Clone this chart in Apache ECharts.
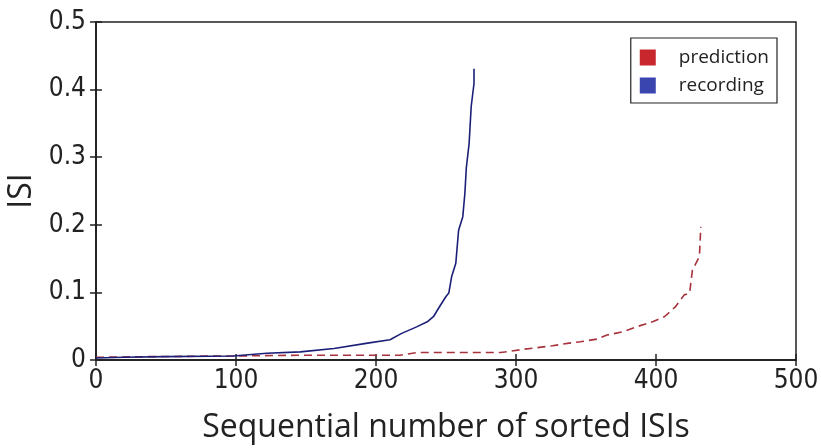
<!DOCTYPE html>
<html><head><meta charset="utf-8">
<script src="https://cdn.jsdelivr.net/npm/echarts@6/dist/echarts.min.js"></script>
<style>html,body{margin:0;padding:0;background:#fff}#c{width:821px;height:448px}</style>
</head><body><div id="c"></div>
<script>
var recX = [0, 20, 50, 98, 122, 146, 170, 194, 210, 218, 229, 237, 241, 246, 250, 252, 254, 257, 259, 262, 263.5, 264.5, 266.5, 268, 270, 270];
var recY = [0.003, 0.004, 0.005, 0.006, 0.010, 0.012, 0.017, 0.025, 0.030, 0.039, 0.049, 0.057, 0.064, 0.081, 0.094, 0.099, 0.123, 0.143, 0.192, 0.212, 0.247, 0.284, 0.320, 0.375, 0.409, 0.431];
var predX = [0, 40, 100, 146, 217, 229, 289, 306, 318, 326, 338, 346, 358, 365, 377, 386, 398, 406, 414, 420, 424, 426, 431, 432];
var predY = [0.004, 0.005, 0.006, 0.007, 0.007, 0.011, 0.011, 0.016, 0.019, 0.021, 0.025, 0.027, 0.031, 0.037, 0.042, 0.049, 0.057, 0.064, 0.079, 0.096, 0.099, 0.133, 0.153, 0.197];
var xTicks = [0, 100, 200, 300, 400, 500];
var yTicks = [0, 0.1, 0.2, 0.3, 0.4, 0.5];
var seriesNames = ['prediction', 'recording'];

function pairs(xs, ys){ return xs.map(function(x,i){ return [x, ys[i]]; }); }

var chart = echarts.init(document.getElementById('c'));
var tickFont = {fontFamily:'Liberation Sans Narrow, DejaVu Sans Condensed, Liberation Sans, sans-serif', fontSize:26, color:'#222'};
chart.setOption({
  animation:false,
  grid:{left:96, top:22, width:700, height:338, show:true, borderColor:'#222', borderWidth:1.5, containLabel:false, outerBoundsMode:'none'},
  legend:{
    right:44, top:38, orient:'vertical', itemGap:9, itemWidth:16, itemHeight:16,
    backgroundColor:'#fff', borderColor:'#222', borderWidth:1.2, padding:[10,8,8,9],
    textStyle:{fontFamily:'Open Sans, sans-serif', fontSize:19, color:'#222', padding:[0,0,0,18]},
    data:[{name:seriesNames[0], icon:'rect', itemStyle:{color:'#c8272d'}},{name:seriesNames[1], icon:'rect', itemStyle:{color:'#3b45b0'}}]
  },
  xAxis:[{
    type:'value', min:xTicks[0], max:xTicks[xTicks.length-1], interval:100,
    name:'Sequential number of sorted ISIs', nameLocation:'middle', nameGap:52,
    nameTextStyle:{fontFamily:'Open Sans, sans-serif', fontSize:32, color:'#222'},
    axisLine:{lineStyle:{color:'#222', width:1.5}},
    axisTick:{inside:true, length:6, lineStyle:{color:'#222', width:1.5}},
    axisLabel:Object.assign({margin:8}, tickFont),
    splitLine:{show:false}
  },{
    type:'value', position:'top', min:0, max:500, interval:100,
    axisLine:{lineStyle:{color:'#222', width:1.5}},
    axisTick:{inside:true, length:6, lineStyle:{color:'#222', width:1.5}},
    axisLabel:{show:false}, splitLine:{show:false}
  }],
  yAxis:[{
    type:'value', min:yTicks[0], max:yTicks[yTicks.length-1], interval:0.1,
    name:'ISI', nameLocation:'middle', nameGap:54, nameRotate:90,
    nameTextStyle:{fontFamily:'Open Sans, sans-serif', fontSize:32, color:'#222'},
    axisLine:{lineStyle:{color:'#222', width:1.5}},
    axisTick:{inside:true, length:6, lineStyle:{color:'#222', width:1.5}},
    axisLabel:Object.assign({margin:10, formatter:function(v){return v===0?'0':v.toFixed(1);}}, tickFont),
    splitLine:{show:false}
  },{
    type:'value', position:'right', min:0, max:0.5, interval:0.1,
    axisLine:{lineStyle:{color:'#222', width:1.5}},
    axisTick:{inside:true, length:6, lineStyle:{color:'#222', width:1.5}},
    axisLabel:{show:false}, splitLine:{show:false}
  }],
  series:[
    {name:seriesNames[0], type:'line', data:pairs(predX, predY), showSymbol:false, symbol:'none',
     itemStyle:{color:'#c8272d'}, lineStyle:{color:'#a8323c', width:1.6, type:[8,5]}},
    {name:seriesNames[1], type:'line', data:pairs(recX, recY), showSymbol:false, symbol:'none',
     itemStyle:{color:'#3b45b0'}, lineStyle:{color:'#1c1f78', width:1.6}}
  ]
});
</script></body></html>
